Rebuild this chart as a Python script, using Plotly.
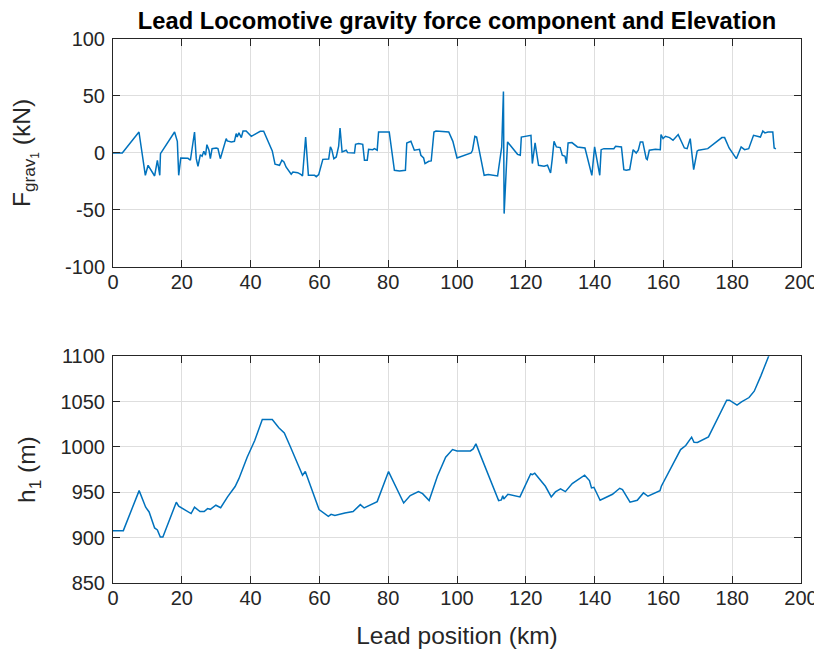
import plotly.graph_objects as go

# ---- Data ----
pos_force_km = [0, 2.7, 7.55, 9.4, 10.2, 12.1, 12.9, 13.6, 13.8, 17.9, 18.7, 19.1, 19.7, 21.8, 22.5, 23.7,
                24.2, 24.7, 25.4, 25.9, 26.4, 26.9, 27.3, 27.9, 28.3, 28.8, 30.0, 30.5, 31.2, 32.9, 33.2,
                34.4, 35.3, 35.8, 36.1, 36.6, 37.3, 37.8, 38.7, 40.2, 41.6, 42.8, 43.8, 44.5, 46.3, 47.1,
                48.4, 49.1, 49.7, 50.3, 51.8, 52.3, 53.7, 54.7, 55.1, 56.0, 56.8, 58.6, 59.1, 59.8, 61.0,
                62.7, 63.2, 63.6, 64.2, 64.9, 65.6, 66.0, 66.6, 67.8, 68.2, 70.2, 70.5, 71.4, 72.6, 73.1,
                73.9, 74.3, 75.5, 76.0, 76.8, 77.2, 80.3, 81.8, 83.3, 85.0, 85.4, 86.6, 87.1, 87.6, 89.1,
                89.5, 90.3, 90.7, 91.8, 92.5, 93.3, 93.9, 97.6, 98.8, 100.0, 104.1, 104.5, 105.2, 105.7,
                107.9, 109.1, 110.1, 111.8, 113.0, 113.5, 113.7, 114.7, 117.6, 118.4, 118.7, 120.2, 121.5,
                121.9, 122.7, 123.7, 125.3, 126.3, 126.8, 127.2, 127.7, 128.2, 128.9, 130.0, 130.6, 131.4,
                131.8, 132.3, 133.4, 135.0, 137.2, 139.2, 140.0, 141.5, 141.9, 142.7, 145.6, 146.1, 147.8,
                148.5, 149.2, 150.2, 151.2, 152.1, 152.7, 153.3, 154.0, 155.0, 155.3, 155.9, 157.7, 159.1,
                159.3, 159.9, 160.6, 161.8, 162.8, 164.3, 166.1, 166.9, 167.8, 168.8, 169.8, 170.2, 172.9,
                177.0, 177.8, 179.1, 181.2, 182.6, 183.6, 184.8, 186.2, 188.2, 188.9, 189.5, 190.4, 191.8,
                192.2, 192.7]
f_grav_kN = [0, 0, 18.4, -19.6, -10.8, -20.2, -6.4, -19.6, -0.6, 18.4, 10.2, -19.6, -4.4, -4.7, -6.4, 18.4,
             -5.0, -11.7, -1.5, -2.9, 1.5, -2.0, 7.3, 2.4, -5.0, 3.8, 4.4, 3.8, -5.0, 12.6, 10.6,
             9.7, 10.2, 17.0, 14.0, 17.6, 13.5, 19.3, 19.3, 14.6, 17.0, 19.0, 19.0, 14.6, 1.8, -9.9,
             -10.8, -6.4, -7.9, -12.3, -18.7, -16.7, -17.3, -19.0, -20.2, 14.0, -19.6, -19.6, -20.8, -19.0, -5.6,
             -5.3, 5.3, 2.9, -5.0, -3.5, 5.9, 21.9, 0.9, 2.4, 0.3, 0.0, 7.6, 8.2, 7.6, -6.4,
             -6.4, 3.2, 2.9, 3.8, 2.4, 18.4, 18.4, -15.2, -15.8, -15.2, 8.8, 10.2, 6.7, 2.4, 3.2,
             -2.0, -4.4, -9.3, -7.3, -7.0, 18.4, 19.3, 18.4, 10.2, -4.4, 0.0, 2.4, 14.6, 14.0,
             -19.6, -19.0, -19.6, -20.2, 5.3, 54.0, -53.2, 9.7, -1.2, -2.0, 14.0, 14.6, 15.5,
             -9.3, 8.8, -10.8, -11.7, -10.8, -14.6, -17.6, -5.0, 10.2, 5.3, 4.7, -2.0, -2.9,
             -9.3, 8.8, 9.1, 5.3, 4.4, -19.6, 5.3, -19.6, 2.9, 3.8, 3.8, 5.9, 5.3,
             -14.6, -15.2, -14.6, 2.9, 0.0, 2.4, 9.7, 9.7, -5.0, -5.8, 2.4, 3.2, 2.9,
             16.1, 12.6, 14.6, 13.5, 11.1, 16.1, 4.4, 3.8, 12.6, -14.6, 1.5, 2.4, 3.8,
             13.5, 13.5, 4.4, -5.0, 5.3, 2.9, 3.8, 15.5, 14.0, 19.3, 17.6, 18.4, 18.4,
             4.4, 3.5]

pos_elev_km = [0, 3.0, 7.6, 9.5, 10.5, 12.1, 12.9, 13.75, 14.5, 18.4, 19.1, 22.7, 23.7, 25.3, 26.5, 27.5,
               28.3, 29.9, 31.3, 33.3, 35.5, 36.6, 39.0, 41.2, 43.4, 46.3, 48.2, 49.8, 51.5, 53.5, 55.1,
               55.9, 58.0, 59.9, 62.6, 63.4, 64.5, 67.4, 69.8, 71.9, 73.0, 76.8, 80.1, 84.5, 86.4, 88.8,
               90.0, 91.9, 94.3, 96.7, 98.7, 100.0, 103.9, 104.7, 105.5, 112.1, 112.9, 113.3, 113.6,
               114.8, 118.3, 121.4, 121.9, 122.6, 125.7, 127.4, 128.6, 130.1, 131.5, 133.5, 137.1, 138.5,
               139.1, 139.8, 141.6, 145.2, 147.3, 148.1, 150.3, 152.4, 154.2, 155.5, 159.0, 159.4, 165.0,
               166.5, 168.2, 168.9, 169.9, 173.1, 178.4, 179.2, 181.4, 182.7, 184.9, 186.4, 188.3, 190.5,
               192.9]
elev_m = [907.7, 907.7, 951.8, 933.5, 928.3, 910.7, 908.5, 900.7, 900.7, 939.0, 934.6, 926.5, 933.5, 928.7,
          928.7, 932.0, 931.2, 935.7, 933.0, 944.9, 956.3, 965.0, 988.6, 1007.0, 1030.1, 1030.1, 1021.0,
          1015.4, 1000.7, 983.5, 968.8, 972.8, 951.1, 930.9, 923.5, 925.7, 924.3, 927.2, 928.7, 936.4,
          932.7, 939.7, 972.8, 938.2, 946.3, 950.7, 948.5, 940.8, 967.6, 988.6, 997.0, 995.6, 995.6,
          997.8, 1003.3, 940.8, 941.5, 946.3, 942.6, 947.8, 944.9, 970.2, 969.5, 971.0, 956.6, 944.9,
          950.4, 953.7, 950.7, 959.6, 968.8, 962.9, 954.8, 955.5, 941.2, 947.8, 954.4, 952.9, 939.0,
          941.2, 949.3, 945.6, 951.8, 956.6, 997.0, 1001.5, 1010.7, 1005.1, 1004.8, 1011.0, 1051.5,
          1051.5, 1046.0, 1049.6, 1054.4, 1061.4, 1078.0, 1100.7, 1122.0]

x_ticks = [0, 20, 40, 60, 80, 100, 120, 140, 160, 180, 200]
force_ticks = [-100, -50, 0, 50, 100]
force_tick_labels = ["-100", "-50", "0", "50", "100"]
elev_ticks = [850, 900, 950, 1000, 1050, 1100]

# ---- Styling ----
LINE_C = "#0072BD"
AX_C = "#262626"
GRID_C = "#dedede"
FONT = "Liberation Sans, Arial, Helvetica, sans-serif"
TICK_SIZE = 20
LABEL_SIZE = 24.5
TITLE_SIZE = 23.7

# The page body has an 8px default margin, so the figure is drawn 8px in and down.
PAGE_OFF = 8
W, H = 822 - PAGE_OFF, 655 - PAGE_OFF

fig = go.Figure()
fig.add_trace(go.Scatter(x=pos_force_km, y=f_grav_kN, mode="lines",
                         line=dict(color=LINE_C, width=1.5), xaxis="x", yaxis="y", showlegend=False))
fig.add_trace(go.Scatter(x=pos_elev_km, y=elev_m, mode="lines",
                         line=dict(color=LINE_C, width=1.5), xaxis="x2", yaxis="y2", showlegend=False))

common = dict(showline=True, linecolor=AX_C, linewidth=1, mirror="ticks",
              ticks="inside", ticklen=7, tickcolor=AX_C, tickwidth=1,
              showgrid=True, gridcolor=GRID_C, gridwidth=1, zeroline=False,
              automargin=False,
              tickfont=dict(family=FONT, size=TICK_SIZE, color=AX_C))

fig.update_layout(
    width=W, height=H,
    margin=dict(l=113 - PAGE_OFF, r=21, t=39 - PAGE_OFF, b=72, autoexpand=False),
    paper_bgcolor="white", plot_bgcolor="white",
    font=dict(family=FONT, color=AX_C),
    title=dict(text="<b>Lead Locomotive gravity force component and Elevation</b>",
               x=0.5, xref="paper", xanchor="center",
               y=1 - (21 - PAGE_OFF) / H, yref="container", yanchor="middle",
               font=dict(family=FONT, size=TITLE_SIZE, color="black")),
    xaxis=dict(domain=[0, 1], anchor="y", range=[0, 200], tickvals=x_ticks,
               ticklabelstandoff=-3, **common),
    yaxis=dict(domain=[0.581, 1], anchor="x", range=[-100, 100],
               tickvals=force_ticks, ticktext=force_tick_labels,
               ticklabelstandoff=3,
               title=dict(text="F<sub>grav<sub>1</sub></sub> (kN)", standoff=29,
                          font=dict(family=FONT, size=LABEL_SIZE, color=AX_C)),
               **common),
    xaxis2=dict(domain=[0, 1], anchor="y2", range=[0, 200], tickvals=x_ticks,
                ticklabelstandoff=-3,
                title=dict(text="Lead position (km)", standoff=18,
                           font=dict(family=FONT, size=LABEL_SIZE, color=AX_C)),
                **common),
    yaxis2=dict(domain=[0, 0.417], anchor="x2", range=[850, 1100], tickvals=elev_ticks,
                ticklabelstandoff=3,
                title=dict(text="h<sub>1</sub> (m)", standoff=17,
                           font=dict(family=FONT, size=LABEL_SIZE, color=AX_C)),
                **common),
)

fig.write_html("out.html")
